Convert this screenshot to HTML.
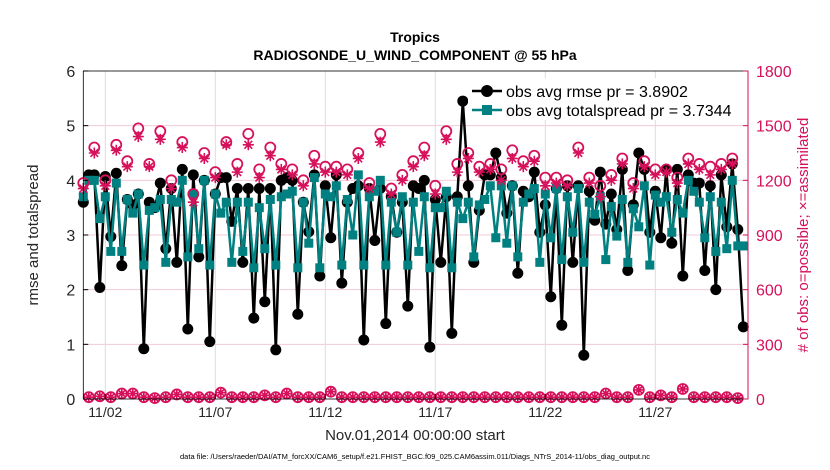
<!DOCTYPE html>
<html><head><meta charset="utf-8"><style>
html,body{margin:0;padding:0;background:#fff;}
svg{display:block;font-family:"Liberation Sans",Arial,sans-serif;}
</style></head><body>
<svg id="chart" width="830" height="470" viewBox="0 0 830 470" xmlns="http://www.w3.org/2000/svg">
<rect width="830" height="470" fill="#fff"/>
<text x="415" y="42" text-anchor="middle" font-size="14" font-weight="bold">Tropics</text>
<text x="415" y="60" text-anchor="middle" font-size="14" font-weight="bold">RADIOSONDE_U_WIND_COMPONENT @ 55 hPa</text>
<g id="grid"></g><g id="series"></g><g id="axes"></g>
</svg>
<script>
const rmse=[3.6,4.1,4.1,2.04,4.07,2.97,4.13,2.44,3.65,3.55,3.75,0.92,3.6,3.5,3.95,2.75,3.85,2.5,4.2,1.28,4.1,2.6,4.0,1.05,3.75,4.05,4.05,3.25,3.85,2.5,3.85,1.48,3.85,1.78,3.85,0.9,4.0,4.05,4.0,1.55,3.6,3.06,4.1,2.25,3.9,2.95,4.1,2.12,3.6,3.85,3.9,1.08,3.85,2.9,3.85,1.38,3.7,3.05,3.6,1.7,3.9,3.85,4.0,0.95,3.65,2.5,3.7,1.2,3.7,5.45,3.9,2.5,3.45,4.1,4.1,4.5,4.05,3.4,3.9,2.3,3.8,3.7,4.15,3.05,3.55,1.87,3.85,1.35,3.9,2.5,3.9,0.8,3.8,3.27,4.15,3.2,3.75,3.1,4.2,2.35,3.55,4.5,4.2,3.05,3.8,2.95,4.2,2.85,4.2,2.25,4.1,3.95,3.95,2.35,3.9,2.0,4.1,3.15,4.3,3.1,1.32];
const spread=[3.7,4.0,4.0,3.3,3.7,2.7,3.95,2.7,3.65,3.4,3.75,2.45,3.45,3.5,3.65,2.5,3.65,3.6,4.0,2.6,3.75,2.75,4.0,2.45,3.75,3.4,3.6,2.5,3.6,2.7,3.6,2.4,3.5,2.75,3.65,2.45,3.7,3.75,3.8,2.4,3.6,2.85,4.05,2.4,3.75,3.7,3.9,2.45,3.65,3.0,4.1,2.45,3.7,3.8,4.0,2.45,3.6,3.05,3.7,2.45,3.6,2.7,3.7,2.4,3.5,3.5,3.8,2.4,3.6,3.3,3.6,2.6,3.55,3.65,3.9,2.95,3.9,2.85,3.9,2.6,3.6,3.75,3.85,2.5,3.75,2.95,3.85,2.55,3.7,3.05,3.85,2.5,3.6,3.38,3.7,2.55,3.52,2.98,3.65,2.5,3.48,3.15,3.9,2.45,3.73,3.6,3.7,3.05,3.65,3.4,4.0,3.8,3.6,2.95,3.7,2.7,3.6,2.75,4.0,2.8,2.8];
const possible=[1185,10,1380,15,1200,10,1395,30,1305,30,1485,10,1290,5,1470,10,1200,25,1410,10,1125,10,1350,10,1245,35,1410,10,1290,10,1455,10,1260,20,1380,10,1290,30,1260,10,1200,10,1335,10,1275,40,1275,10,1260,10,1350,10,1185,10,1455,10,1155,10,1230,10,1305,10,1380,10,1170,10,1470,10,1290,10,1350,10,1275,10,1290,10,1260,10,1365,10,1305,10,1335,10,1215,10,1215,10,1200,10,1380,10,1215,10,1170,30,1230,10,1320,10,1185,50,1305,10,1260,20,1260,10,1215,55,1320,10,1290,10,1275,10,1290,10,1320,5];
const assimilated=[1155,10,1350,15,1170,10,1365,30,1275,30,1440,10,1275,5,1425,10,1155,25,1380,10,1080,10,1320,10,1215,35,1395,10,1245,10,1395,10,1215,20,1335,10,1260,30,1230,10,1170,10,1290,10,1245,40,1245,10,1230,10,1320,10,1155,10,1410,10,1125,10,1200,10,1275,10,1335,10,1125,10,1425,10,1245,10,1320,10,1245,10,1260,10,1200,10,1320,10,1275,10,1305,10,1170,10,1185,10,1170,10,1350,10,1185,10,1110,30,1200,10,1290,10,1155,50,1275,10,1230,20,1245,10,1185,55,1290,10,1260,10,1230,10,1260,10,1290,5];
const leftTicks=[0,1,2,3,4,5,6];
const rightTicks=[0,300,600,900,1200,1500,1800];
const dateTicks=[2,7,12,17,22,27];
const dateLabels=["11/02","11/07","11/12","11/17","11/22","11/27"];

const X0=83.3,X1=748,Y0=399,Y1=71;
const xDay=d=>X0+(d-1)*22;
const xIdx=i=>xDay(1+i*0.25);
const yL=v=>Y0-(v/6)*(Y0-Y1);
const yR=c=>Y0-(c/1800)*(Y0-Y1);
const NS="http://www.w3.org/2000/svg";
function mk(tag,attrs,parent){const e=document.createElementNS(NS,tag);for(const k in attrs)e.setAttribute(k,attrs[k]);parent.appendChild(e);return e;}
const grid=document.getElementById('grid'),ser=document.getElementById('series'),ax=document.getElementById('axes');
const MAG="#d6105a",TEAL="#008080";

leftTicks.forEach(v=>{if(v>0&&v<6){const l=mk('line',{x1:X0,x2:X1,y1:yL(v),y2:yL(v),stroke:'#f3cad8','stroke-width':1},grid);

}});
dateTicks.forEach(d=>{const l=mk('line',{x1:xDay(d),x2:xDay(d),y1:Y1,y2:Y0,stroke:'#dcdcdc','stroke-width':1},grid);

});

let p=rmse.map((v,i)=>xIdx(i).toFixed(1)+','+yL(v).toFixed(1)).join(' ');
let pl=mk('polyline',{points:p,fill:'none',stroke:'#000','stroke-width':2.5},ser);


rmse.forEach((v,i)=>{const c=mk('circle',{cx:xIdx(i),cy:yL(v),r:5.5,fill:'#000'},ser);

});
p=spread.map((v,i)=>xIdx(i).toFixed(1)+','+yL(v).toFixed(1)).join(' ');
pl=mk('polyline',{points:p,fill:'none',stroke:TEAL,'stroke-width':2.5},ser);


spread.forEach((v,i)=>{const r=mk('rect',{x:xIdx(i)-4.5,y:yL(v)-4.5,width:9,height:9,fill:TEAL},ser);

});
possible.forEach((c,i)=>{const e=mk('circle',{cx:xIdx(i),cy:yR(c),r:5,fill:'none',stroke:MAG,'stroke-width':1.8},ser);

});
assimilated.forEach((c,i)=>{const x=xIdx(i),y=yR(c),s=5.5;
const g=mk('path',{d:`M${x-s},${y}H${x+s}M${x},${y-s}V${y+s}M${x-s*0.7},${y-s*0.7}L${x+s*0.7},${y+s*0.7}M${x-s*0.7},${y+s*0.7}L${x+s*0.7},${y-s*0.7}`,stroke:MAG,'stroke-width':1.6,fill:'none'},ser);

});

let a=mk('rect',{x:X0,y:Y1,width:X1-X0,height:Y0-Y1,fill:'none',stroke:'#000','stroke-width':0.8},ax);


a=mk('line',{x1:X1,x2:X1,y1:Y1,y2:Y0,stroke:MAG,'stroke-width':1},ax);


leftTicks.forEach(v=>{const t=mk('text',{x:X0-8,y:yL(v)+6,'text-anchor':'end','font-size':16,fill:'#262626'},ax);t.textContent=v;


mk('line',{x1:X0,x2:X0+5,y1:yL(v),y2:yL(v),stroke:'#000'},ax);});
rightTicks.forEach(c=>{const t=mk('text',{x:X1+8,y:yR(c)+6,'font-size':16,fill:MAG},ax);t.textContent=c;


mk('line',{x1:X1-5,x2:X1,y1:yR(c),y2:yR(c),stroke:MAG},ax);});
dateTicks.forEach((d,k)=>{const t=mk('text',{x:xDay(d),y:417,'text-anchor':'middle','font-size':14,fill:'#262626'},ax);t.textContent=dateLabels[k];


mk('line',{x1:xDay(d),x2:xDay(d),y1:Y0,y2:Y0-5,stroke:'#000'},ax);});
let t=mk('text',{x:415,y:440,'text-anchor':'middle','font-size':15,fill:'#262626'},ax);t.textContent='Nov.01,2014 00:00:00 start';


t=mk('text',{x:415,y:459,'text-anchor':'middle','font-size':7.5,fill:'#000'},ax);t.textContent='data file: /Users/raeder/DAI/ATM_forcXX/CAM6_setup/f.e21.FHIST_BGC.f09_025.CAM6assim.011/Diags_NTrS_2014-11/obs_diag_output.nc';


t=mk('text',{x:0,y:0,'text-anchor':'middle','font-size':15,fill:'#262626',transform:'translate(38,235) rotate(-90)'},ax);t.textContent='rmse and totalspread';


t=mk('text',{x:0,y:0,'text-anchor':'middle','font-size':15,fill:MAG,transform:'translate(808,235) rotate(-90)'},ax);t.textContent='# of obs: o=possible; \u00d7=assimilated';



const lg=mk('g',{},ax);


mk('rect',{x:468,y:78,width:276,height:42,fill:'#fff'},lg);
mk('line',{x1:472,x2:502,y1:91,y2:91,stroke:'#000','stroke-width':2.5},lg);
mk('circle',{cx:487,cy:91,r:6,fill:'#000'},lg);
t=mk('text',{x:506,y:97,'font-size':16,fill:'#000'},lg);t.textContent='obs avg rmse pr = 3.8902';


mk('line',{x1:472,x2:502,y1:110,y2:110,stroke:TEAL,'stroke-width':2.5},lg);
mk('rect',{x:482,y:105,width:10,height:10,fill:TEAL},lg);
t=mk('text',{x:506,y:116,'font-size':16,fill:'#000'},lg);t.textContent='obs avg totalspread pr = 3.7344';


</script>
</body></html>
